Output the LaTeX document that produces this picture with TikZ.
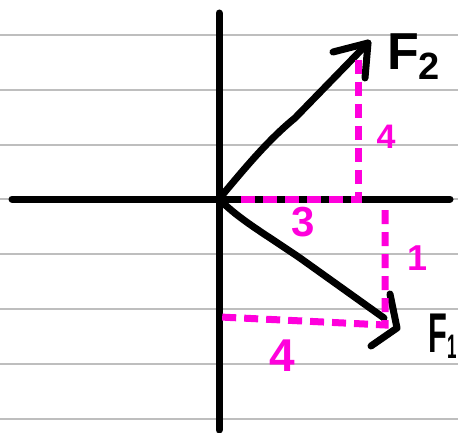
\documentclass[tikz,border=0pt]{standalone}
\usepackage{fontspec}
\setmainfont{Liberation Sans}
\definecolor{mag}{RGB}{255,0,220}
\definecolor{ruled}{RGB}{190,190,190}
\tikzset{
  ink/.style={line width=7pt, line cap=round, line join=round, black},
  guide/.style={line width=7pt, mag, dash pattern=on 14pt off 8pt},
  ruleline/.style={line width=1.5pt, ruled},
  maglabel/.style={text=mag, inner sep=0pt, font=\bfseries},
  flabel/.style={inner sep=0pt, anchor=base west, font=\bfseries}
}
\begin{document}
\begin{tikzpicture}[x=1pt,y=-1pt]
\useasboundingbox (0,0) rectangle (458,433);
\clip (0,0) rectangle (458,433);
\fill[white] (0,0) rectangle (458,433);
% notebook lines
\foreach \yy in {35,90,145,199,254,309,364,419}
  \draw[ruleline] (0,\yy) -- (458,\yy);
% coordinates
\coordinate (O) at (219,199);
\coordinate (axL) at (12,199);
\coordinate (axR) at (450,199);
\coordinate (axT) at (219,13);
\coordinate (axB) at (219,430);
\coordinate (T2) at (368,43);
\coordinate (T2a) at (333,52);
\coordinate (T2b) at (365,78);
\coordinate (T1) at (397,328);
\coordinate (T1a) at (390,294);
\coordinate (T1b) at (371,346);
% axes
\draw[ink] (axL) -- (axR);
\draw[ink] (axT) -- (axB);
% F2
\draw[ink] (O) .. controls (245,168) and (268,140) .. (295,118) -- (T2);
\draw[ink] (T2a) -- (T2) -- (T2b);
% F1
\draw[ink] (O) .. controls (240,220) and (262,232) .. (300,258) -- (384,318);
\draw[ink] (T1a) -- (T1) -- (T1b);
% guides
\coordinate (G2top) at (358,60);
\coordinate (G2c) at (358,199);
\coordinate (G2l) at (240,199);
\draw[guide] (G2top) -- (G2c) -- (G2l);
\coordinate (G1top) at (385,210);
\coordinate (G1c) at (385,325);
\coordinate (G1l) at (220,317);
\draw[guide] (G1top) -- (G1c) -- (G1l);
% labels
\node[maglabel, font=\bfseries\fontsize{34}{34}\selectfont] (l4a) at (386,137) {4};
\node[maglabel, font=\bfseries\fontsize{42}{42}\selectfont] (l3) at (303,222) {3};
\node[maglabel, font=\bfseries\fontsize{36}{36}\selectfont] (l1) at (418,258) {1};
\node[maglabel, font=\bfseries\fontsize{46}{46}\selectfont] (l4b) at (282,356) {4};
\node[flabel, font=\bfseries\fontsize{52}{52}\selectfont] (f2) at (387,70) {F\raisebox{-10pt}{\fontsize{38}{38}\selectfont 2}};
\node[flabel, font=\bfseries\fontsize{56}{56}\selectfont] (f1) at (428,352) {\scalebox{0.55}[1]{F}\raisebox{-6pt}{\scalebox{0.5}[1]{\fontsize{34}{34}\selectfont 1}}};
\end{tikzpicture}
\end{document}
